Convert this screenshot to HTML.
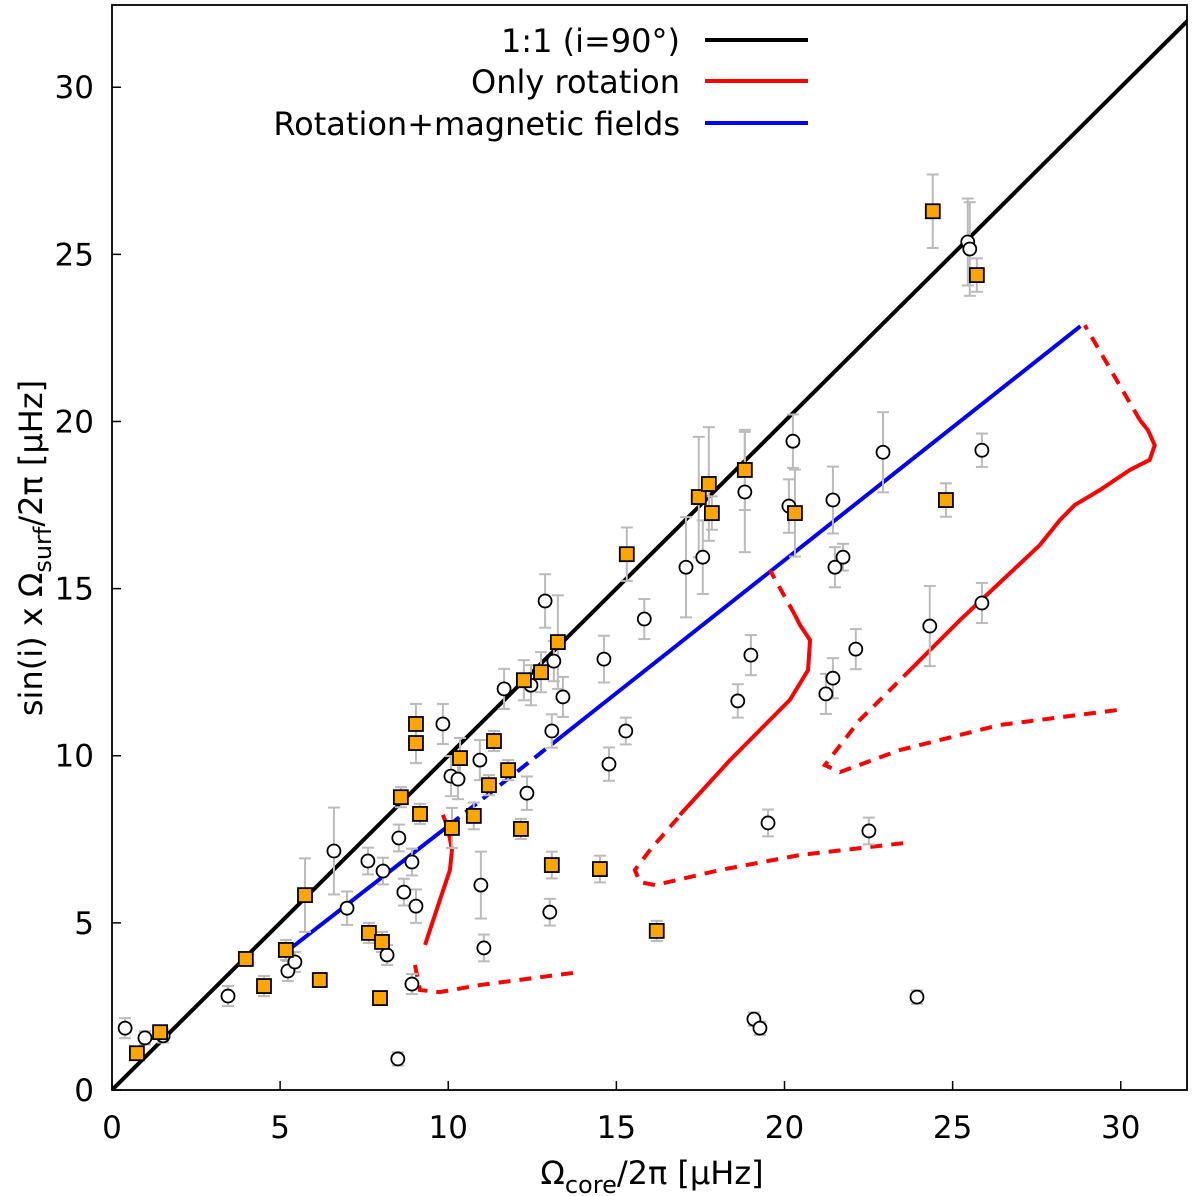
<!DOCTYPE html>
<html><head><meta charset="utf-8"><style>
html,body{margin:0;padding:0;background:#fff;}
svg{display:block;font-family:"DejaVu Sans","Liberation Sans",sans-serif;}
</style></head><body>
<svg id="chart" width="1200" height="1196" viewBox="0 0 1200 1196"></svg>
<script>
const circX=[0.39,0.98,1.52,3.45,5.23,5.44,6.6,6.99,7.61,8.06,8.18,8.53,8.68,8.5,8.92,8.92,9.04,9.84,10.08,10.29,10.94,10.97,11.06,11.66,12.34,12.46,12.88,13.02,13.08,13.14,13.41,14.63,14.78,15.28,15.83,17.07,17.57,18.61,18.82,19.0,19.09,19.27,19.51,20.13,20.25,21.23,21.44,21.44,21.5,21.74,22.12,22.51,22.93,23.94,24.32,25.45,25.51,25.87,25.87];
const circY=[1.85,1.56,1.62,2.81,3.56,3.83,7.15,5.44,6.85,6.55,4.04,7.54,5.92,0.93,6.82,3.17,5.5,10.95,9.39,9.3,9.87,6.13,4.25,12.0,8.88,12.11,14.63,5.32,10.74,12.83,11.76,12.89,9.75,10.74,14.09,15.64,15.94,11.64,17.89,13.01,2.12,1.85,7.99,17.47,19.41,11.85,12.32,17.65,15.64,15.94,13.19,7.75,19.08,2.78,13.88,25.37,25.16,19.14,14.57];
const circErr=[0.3,0.2,0.2,0.3,0.3,0.3,1.3,0.5,0.4,0.4,0.3,0.4,0.4,0.2,0.4,0.3,0.5,0.6,0.6,0.6,0.6,1.0,0.4,0.6,0.5,0.6,0.8,0.4,0.5,0.6,0.6,0.7,0.5,0.4,0.6,1.5,1.1,0.5,1.8,0.6,0.2,0.2,0.4,0.8,0.8,0.6,0.6,1.0,0.6,0.4,0.6,0.4,1.2,0.2,1.2,1.3,1.4,0.5,0.6];
const sqX=[0.74,1.43,3.98,4.52,5.17,5.74,6.18,7.64,8.03,7.97,8.59,9.04,9.04,9.16,10.11,10.35,10.76,11.21,11.36,11.78,12.16,12.25,12.76,13.26,13.08,14.51,15.31,16.2,17.45,17.75,17.84,18.82,20.31,24.41,25.72,24.8];
const sqY=[1.1,1.73,3.92,3.11,4.19,5.83,3.29,4.70,4.43,2.75,8.76,10.95,10.38,8.26,7.84,9.93,8.20,9.12,10.44,9.57,7.81,12.26,12.50,13.40,6.73,6.61,16.03,4.76,17.74,18.13,17.26,18.55,17.26,26.29,24.38,17.65];
const sqErr=[0.2,0.2,0.2,0.3,0.3,1.1,0.2,0.3,0.3,0.2,0.3,0.6,0.6,0.3,0.6,0.6,0.4,0.3,0.3,0.3,0.3,0.6,0.6,1.4,0.4,0.4,0.8,0.3,1.8,1.7,0.5,1.2,1.3,1.1,0.5,0.5];
const xTicks=[0,5,10,15,20,25,30];
const yTicks=[0,5,10,15,20,25,30];
const blueX=[5.2,10.0,13.4,28.8];
const blueY=[4.15,7.9,10.6,22.85];
const r1sX=[9.31,9.75,10.05,10.11,9.99,9.84];
const r1sY=[4.34,5.68,6.58,7.18,7.84,8.23];
const r1dX=[9.01,9.16,9.75,10.94,13.92];
const r1dY=[3.74,2.99,2.93,3.14,3.53];
const r2sX=[16.89,18.38,20.16,20.7,20.76,20.46,20.31];
const r2sY=[8.23,9.87,11.67,12.56,13.46,13.91,14.21];
const r2tX=[20.31,19.57];
const r2tY=[14.21,15.55];
const r2dX=[16.83,16.0,15.55,15.7,16.15,18.08,20.46,23.58];
const r2dY=[8.14,7.18,6.58,6.22,6.13,6.58,7.03,7.39];
const r3sX=[23.79,25.22,27.59,28.19,28.63,29.38,30.27,30.86,31.01,30.81,30.57];
const r3sY=[12.62,14.06,16.3,17.05,17.5,17.95,18.55,18.85,19.29,19.74,20.04];
const r3tX=[30.57,28.93];
const r3tY=[20.04,22.88];
const r3dX=[23.79,22.24,21.2,21.65,23.43,26.4,29.91];
const r3dY=[12.62,11.07,9.72,9.51,10.17,10.92,11.37];

const L=112,R=1187,T=5,B=1090,XMAX=31.97,YMAX=32.46;
const sx=v=>L+v*(R-L)/XMAX, sy=v=>B-v*(B-T)/YMAX;
const NS='http://www.w3.org/2000/svg';
const svg=document.getElementById('chart');
function mk(tag,attrs,parent){const e=document.createElementNS(NS,tag);for(const k in attrs)e.setAttribute(k,attrs[k]);(parent||svg).appendChild(e);return e;}
const defs=mk('defs',{});const cp=mk('clipPath',{id:'clip'},defs);mk('rect',{x:L,y:T,width:R-L,height:B-T},cp);
const plot=mk('g',{'clip-path':'url(#clip)'});



const one=mk('line',{x1:sx(0),y1:sy(0),x2:sx(33),y2:sy(33),stroke:'#000','stroke-width':4},plot);



function poly(xs,ys,color,dash,name){
  const p=mk('polyline',{points:xs.map((x,i)=>sx(x)+','+sy(ys[i])).join(' '),fill:'none',stroke:color,'stroke-width':4,'stroke-dasharray':dash||'none'},plot);
  
  
}
poly(blueX.slice(0,2),blueY.slice(0,2),'#0000ff','none','rotation-magnetic-line');
poly(blueX.slice(1,3),blueY.slice(1,3),'#0000ff','14,8','rotation-magnetic-dashed');
poly(blueX.slice(2,4),blueY.slice(2,4),'#0000ff','none','rotation-magnetic-line-upper');
poly(r1sX,r1sY,'#ff0000','none','rotation-track-1');
poly(r1dX,r1dY,'#ff0000','12,9','rotation-track-1-dashed');
poly(r2sX,r2sY,'#ff0000','none','rotation-track-2');
poly(r2tX,r2tY,'#ff0000','12,9','rotation-track-2-top');
poly(r2dX,r2dY,'#ff0000','12,9','rotation-track-2-dashed');
poly(r3sX,r3sY,'#ff0000','none','rotation-track-3');
poly(r3tX,r3tY,'#ff0000','12,9','rotation-track-3-top');
poly(r3dX,r3dY,'#ff0000','12,9','rotation-track-3-dashed');

function errbar(x,y,e,name){
  const g=mk('g',{stroke:'#bbbbbb','stroke-width':2},plot);
  
  
  mk('line',{x1:sx(x),x2:sx(x),y1:sy(y-e),y2:sy(y+e)},g);
  mk('line',{x1:sx(x)-6,x2:sx(x)+6,y1:sy(y-e),y2:sy(y-e)},g);
  mk('line',{x1:sx(x)-6,x2:sx(x)+6,y1:sy(y+e),y2:sy(y+e)},g);
}
circX.forEach((x,i)=>errbar(x,circY[i],circErr[i],'circle-error-bar'));
sqX.forEach((x,i)=>errbar(x,sqY[i],sqErr[i],'square-error-bar'));
circX.forEach((x,i)=>{
  const c=mk('circle',{cx:sx(x),cy:sy(circY[i]),r:6.5,fill:'#fff',stroke:'#000','stroke-width':1.8},plot);
  
  
});
sqX.forEach((x,i)=>{
  const s=mk('rect',{x:sx(x)-7,y:sy(sqY[i])-7,width:14,height:14,fill:'#ffa500',stroke:'#000','stroke-width':1.8},plot);
  
  
});

const fr=mk('rect',{x:L,y:T,width:R-L,height:B-T,fill:'none',stroke:'#000','stroke-width':1.8});


xTicks.forEach(t=>{
  mk('line',{x1:sx(t),x2:sx(t),y1:B,y2:B-9,stroke:'#000','stroke-width':1.5});
  const tx=mk('text',{x:sx(t),y:B+48,'text-anchor':'middle','font-size':31});
  tx.textContent=t;
  
  
});
yTicks.forEach(t=>{
  mk('line',{x1:L,x2:L+9,y1:sy(t),y2:sy(t),stroke:'#000','stroke-width':1.5});
  const tx=mk('text',{x:L-18,y:sy(t)+11,'text-anchor':'end','font-size':31});
  tx.textContent=t;
  
  
});
</script>
<svg style="position:absolute;left:0;top:0" width="1200" height="1196">
<g font-family="DejaVu Sans, Liberation Sans, sans-serif" font-size="32">
<text x="652" y="1184" text-anchor="middle">Ω<tspan font-size="24" dy="9">core</tspan><tspan dy="-9">/2π [μHz]</tspan></text>
<text transform="translate(42,548) rotate(-90)" text-anchor="middle">sin(i) x Ω<tspan font-size="24" dy="9">surf</tspan><tspan dy="-9">/2π [μHz]</tspan></text>
<g>
<text x="680" y="52" text-anchor="end">1:1 (i=90°)</text>
<line x1="705" x2="808" y1="40" y2="40" stroke="#000" stroke-width="4"/>
<text x="680" y="93" text-anchor="end">Only rotation</text>
<line x1="705" x2="808" y1="81" y2="81" stroke="#ff0000" stroke-width="4"/>
<text x="680" y="135" text-anchor="end">Rotation+magnetic fields</text>
<line x1="705" x2="808" y1="123" y2="123" stroke="#0000ff" stroke-width="4"/>
</g>
</g>
</svg>
</body></html>
